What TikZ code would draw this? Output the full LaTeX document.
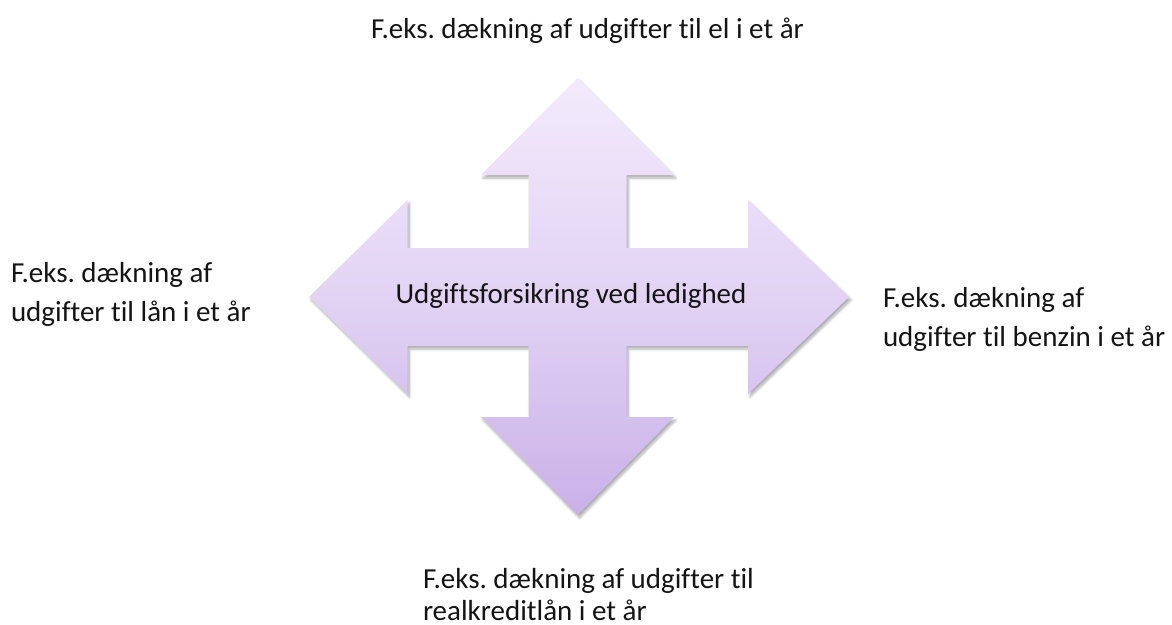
\documentclass[tikz,border=0pt]{standalone}
\usepackage{fontspec}
\setmainfont[Ligatures=NoCommon]{Carlito}
\usetikzlibrary{shadows.blur}
\frenchspacing
\tikzset{
  lbl/.style={inner sep=0pt, outer sep=0pt, text=black!92, align=left, anchor=base west,
    font=\fontsize{29}{35}\selectfont},
  crossshape/.style={top color=crossTop, bottom color=crossBot, middle color=crossMid,
    blur shadow={shadow xshift=2pt, shadow yshift=-3pt, shadow blur steps=6, shadow blur radius=2.5pt, shadow opacity=32}}
}
\definecolor{crossTop}{HTML}{F3EAFC}
\definecolor{crossMid}{HTML}{E2D3F4}
\definecolor{crossBot}{HTML}{C9B1E8}
\begin{document}
\begin{tikzpicture}[x=1pt,y=-1pt]
\useasboundingbox (0,0) rectangle (1172,624);
% cross arrow
\path[crossshape]
  (577.5,78) -- (674,175) -- (626.5,175) -- (626.5,248)
  -- (748,248) -- (748,200) -- (849,297) -- (748,394) -- (748,346)
  -- (626.5,346) -- (626.5,417) -- (674,417) -- (577.5,515) -- (481,417)
  -- (528.5,417) -- (528.5,346) -- (407.5,346) -- (407.5,394) -- (309,297)
  -- (407.5,200) -- (407.5,248) -- (528.5,248) -- (528.5,175) -- (481,175) -- cycle;
\node[lbl, anchor=base] (center) at (571,303) {Udgiftsforsikring ved ledighed};
\node[lbl] (top) at (371,38) {F.eks. dækning af udgifter til el i et år};
\node[lbl] (left) at (11,321.7) {F.eks. dækning af\\[4.4pt]udgifter til lån i et år};
\node[lbl] (right) at (883,346.7) {F.eks. dækning af\\[4.4pt]udgifter til benzin i et år};
\node[lbl] (bottom) at (423,620.5) {F.eks. dækning af udgifter til\\[-2.6pt]realkreditlån i et år};
\end{tikzpicture}
\end{document}
